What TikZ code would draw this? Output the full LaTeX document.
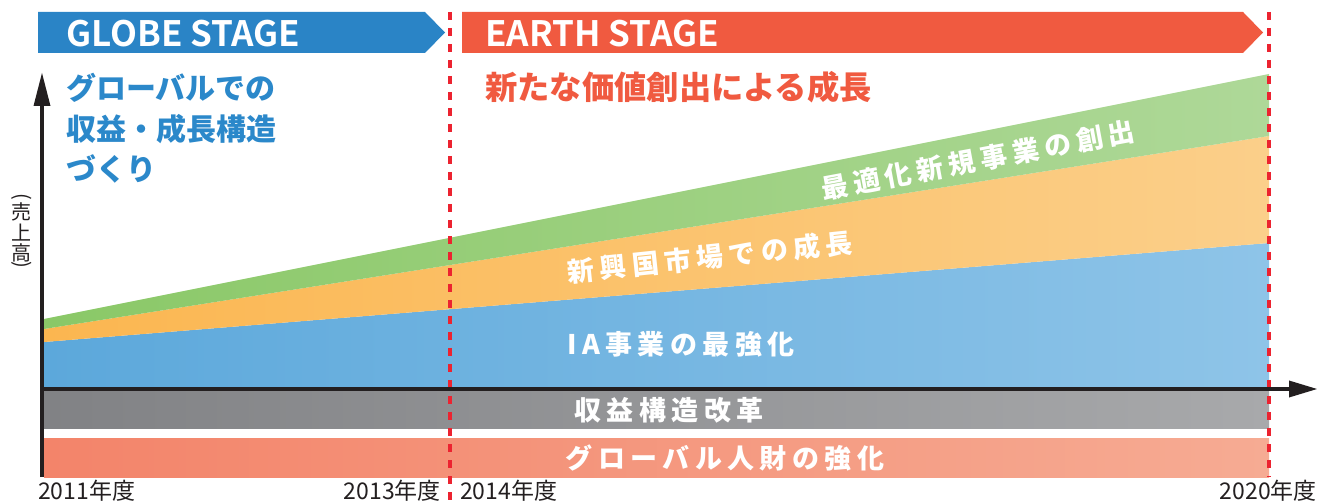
\documentclass[tikz,border=0pt]{standalone}
\usepackage{fontspec}
\setmainfont{Noto Sans CJK JP}
\newfontfamily\jpb{Noto Sans CJK JP}[UprightFont=* Bold]
\newfontfamily\jpk{Noto Sans CJK JP}[UprightFont=* Black]
\newfontfamily\jpks{Noto Sans CJK JP}[UprightFont=* Black, LetterSpace=20]
\newfontfamily\jpr{Noto Sans CJK JP}
\definecolor{bannerblue}{HTML}{2A84C6}
\definecolor{headblue}{HTML}{2B88CA}
\definecolor{bannerred}{HTML}{F05A40}
\definecolor{dashred}{HTML}{EC2330}
\definecolor{axisc}{HTML}{231F20}
\definecolor{blueL}{HTML}{5CA8DB}
\definecolor{blueR}{HTML}{8EC4E8}
\definecolor{orL}{HTML}{FBB650}
\definecolor{orR}{HTML}{FBCF8A}
\definecolor{grL}{HTML}{8AC867}
\definecolor{grR}{HTML}{AED898}
\definecolor{gyL}{HTML}{818285}
\definecolor{gyR}{HTML}{A8A9AB}
\definecolor{saL}{HTML}{F3846A}
\definecolor{saR}{HTML}{F6AB93}
\tikzset{
  bannertext/.style={text=white, font=\jpb\fontsize{35}{35}\selectfont, inner sep=0pt, anchor=base west},
  headtext/.style={font=\jpk\fontsize{30}{30}\selectfont, inner sep=0pt, anchor=base west},
  bandtext/.style={text=white, font=\jpks\fontsize{27}{27}\selectfont, inner sep=0pt},
  yeartext/.style={text=axisc, font=\jpr\fontsize{23}{23}\selectfont, inner sep=0pt},
  ylabtext/.style={text=axisc, font=\jpr\fontsize{20}{20}\selectfont, inner sep=0pt},
  dashline/.style={draw=dashred, line width=3.2pt, dash pattern=on 8pt off 8pt},
  axisline/.style={draw=axisc, line width=4pt},
}
\begin{document}
\begin{tikzpicture}[x=1pt,y=-1pt]
\useasboundingbox (0,0) rectangle (1317,502);
% bands
\shade[left color=blueL, right color=blueR] (44,342) -- (1269,243) -- (1269,389) -- (44,389) -- cycle;
\shade[left color=orL, right color=orR] (44,329) -- (1269,136) -- (1269,243) -- (44,342) -- cycle;
\shade[left color=grL, right color=grR] (44,319) -- (1269,74) -- (1269,136) -- (44,329) -- cycle;
\shade[left color=gyL, right color=gyR] (44,391) rectangle (1269,428);
\shade[left color=saL, right color=saR] (44,438) rectangle (1269,477);
% banners
\fill[bannerblue] (38,12) -- (425,12) -- (445,32.5) -- (425,53) -- (38,53) -- cycle;
\fill[bannerred] (462,12) -- (1243,12) -- (1263,32.5) -- (1243,53) -- (462,53) -- cycle;
% dashed dividers
\coordinate (d1top) at (450,12);
\coordinate (d1bot) at (450,502);
\coordinate (d2top) at (1269,12);
\coordinate (d2bot) at (1269,477);
\draw[dashline] (d1top) -- (d1bot);
\draw[dashline] (d2top) -- (d2bot);
% axes
\coordinate (yb) at (42,477);
\coordinate (ye) at (42,100);
\coordinate (xb) at (40,389);
\coordinate (xe) at (1294,389);
\draw[axisline] (yb) -- (ye);
\draw[axisline] (xb) -- (xe);
\fill[axisc] (42,73) -- (50.5,106) -- (33.5,106) -- cycle;
\fill[axisc] (1317,389) -- (1289,380.5) -- (1289,397.5) -- cycle;
% banner texts
\node[bannertext] (globe) at (66,47) {GLOBE STAGE};
\node[bannertext] (earth) at (485,47) {EARTH STAGE};
% headings
\node[headtext, text=headblue] (h1) at (66,100) {グローバルでの};
\node[headtext, text=headblue] (h2) at (66,140.5) {収益・成長構造};
\node[headtext, text=headblue] (h3) at (66,181) {づくり};
\node[headtext, text=bannerred, font=\jpk\fontsize{32.3}{32}\selectfont] (h4) at (485,100) {新たな価値創出による成長};
% band texts
\node[bandtext, rotate=10.5] (tgreen) at (978,160) {最適化新規事業の創出};
\node[bandtext, rotate=6] (torange) at (710,257) {新興国市場での成長};
\node[bandtext] (tblue) at (681,344) {IA事業の最強化};
\node[bandtext] (tgray) at (669,410) {収益構造改革};
\node[bandtext] (tsalmon) at (725,458) {グローバル人財の強化};
% y label (vertical)
\node[ylabtext, rotate=-90] (yl1) at (22,197) {(};
\node[ylabtext] (yl2) at (22,212) {売};
\node[ylabtext] (yl3) at (22,232.5) {上};
\node[ylabtext] (yl4) at (22,252.5) {高};
\node[ylabtext, rotate=-90] (yl5) at (22,265) {)};
% years
\node[yeartext, anchor=base west] (y2011) at (38,499) {2011年度};
\node[yeartext, anchor=base east] (y2013) at (441,499) {2013年度};
\node[yeartext, anchor=base west] (y2014) at (460,499) {2014年度};
\node[yeartext, anchor=base east] (y2020) at (1317,499) {2020年度};
\end{tikzpicture}
\end{document}
